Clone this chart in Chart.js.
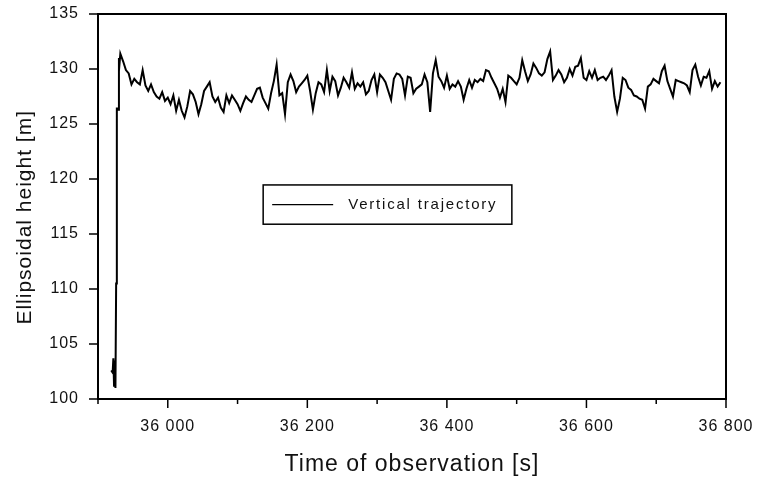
<!DOCTYPE html>
<html><head><meta charset="utf-8">
<script src="https://cdn.jsdelivr.net/npm/chart.js@4.4.0/dist/chart.umd.min.js"></script>
<style>html,body{margin:0;padding:0;background:#fff;}#wrap{width:757px;height:481px;position:relative;}</style>
</head><body><div id="wrap"><canvas id="c" width="757" height="481"></canvas></div>
<script>
const seriesLabel = 'Vertical trajectory';
const xTitle = 'Time of observation [s]';
const yTitle = 'Ellipsoidal height [m]';

// initial jump (1 s samples)
const startTimes   = [35919, 35920, 35921, 35922, 35923, 35924, 35925, 35926, 35927, 35928, 35929, 35930, 35931];
const startHeights = [102.6, 102.6, 102.4, 103.7, 101.2, 103.5, 101.0, 110.5, 126.4, 126.4, 126.3, 131.0, 130.6];

// then one reading every 4 s, starting at 35932 s
const sampledStart = 35932;
const sampledStep = 4;
const sampledHeights = [
  131.4,130.7,129.9,129.6,128.6,129.1,128.8,128.6,129.9,128.5,
  128.0,128.6,127.9,127.5,127.3,127.9,127.1,127.4,126.8,127.6,
  126.2,127.2,126.2,125.6,126.6,128.0,127.7,127.0,125.9,126.8,
  128.0,128.4,128.8,127.5,127.0,127.4,126.5,126.1,127.6,126.9,
  127.6,127.2,
  126.8,126.2,126.9,127.5,127.2,127.0,127.6,128.2,
  128.3,127.4,126.9,126.4,127.8,128.9,130.4,127.6,127.8,125.9,
  128.8,129.5,128.9,127.9,128.4,128.7,129.0,129.4,128.0,126.3,
  127.8,128.8,128.6,127.9,129.9,128.0,129.3,128.9,127.6,128.3,
  129.2,128.8,128.3,129.7,128.2,128.7,
  128.4,128.8,127.7,128.0,
  129.0,129.5,127.9,129.5,129.2,128.8,128.0,127.2,129.1,129.6,
  129.5,129.1,127.6,129.3,129.2,127.8,128.2,128.4,128.6,129.5,
  128.8,126.1,129.6,130.8,129.3,128.9,128.3,129.4,128.2,128.6,
  128.4,128.9,128.4,127.2,128.2,129.0,128.3,129.0,128.8,129.1,128.9,
  129.9,129.8,129.2,128.7,128.2,127.4,128.2,127.0,129.4,
  129.2,128.9,128.6,129.2,130.8,129.8,128.9,129.5,130.5,130.1,
  129.6,129.4,129.7,130.9,131.6,129.0,129.4,129.9,129.5,128.8,
  129.2,130.0,129.4,130.2,130.3,131.0,129.2,129.0,129.8,129.2,
  129.9,129.0,129.2,129.3,129.0,129.4,
  129.9,127.5,126.1,127.3,
  129.2,129.0,128.3,128.1,127.6,127.5,127.3,127.2,126.4,128.4,
  128.6,129.1,128.9,128.7,129.8,130.3,128.9,128.2,127.5,129.0,
  128.9,128.8,128.7,128.5,127.9,129.9,130.4,129.3,128.5,129.3,
  129.2,129.8,128.2,128.9,128.4,128.8
];

const xMin = 35900, xMax = 36800;
const yMin = 100, yMax = 135;
const xMajorTicks = [36000, 36200, 36400, 36600, 36800];
const xMinorTicks = [35900, 36100, 36300, 36500, 36700];
const yTicks = [100, 105, 110, 115, 120, 125, 130, 135];

const points = startTimes.map((t, i) => ({x: t, y: startHeights[i]}));
sampledHeights.forEach((h, i) => points.push({x: sampledStart + i * sampledStep, y: h}));

const fmt = v => String(v).replace(/\B(?=(\d{3})+(?!\d))/g, ' ');
const FONT = '"Liberation Sans", Arial, sans-serif';
const INK = '#111';

const spacingPlugin = {
  id: 'spacing',
  beforeDraw(chart) { chart.ctx.letterSpacing = '1px'; }
};

const framePlugin = {
  id: 'frame',
  afterDatasetsDraw(chart) {
    const {ctx, chartArea: a, scales: {x, y}} = chart;
    ctx.save();
    ctx.strokeStyle = '#000';
    ctx.lineWidth = 2;
    ctx.strokeRect(a.left, a.top, a.right - a.left, a.bottom - a.top);
    ctx.lineWidth = 1.5;
    ctx.beginPath();
    xMajorTicks.forEach(v => { const p = x.getPixelForValue(v); ctx.moveTo(p, a.bottom); ctx.lineTo(p, a.bottom + 9); });
    xMinorTicks.forEach(v => { const p = x.getPixelForValue(v); ctx.moveTo(p, a.bottom); ctx.lineTo(p, a.bottom + 5); });
    yTicks.forEach(v => { const p = y.getPixelForValue(v); ctx.moveTo(a.left, p); ctx.lineTo(a.left - 9, p); });
    ctx.stroke();
    ctx.restore();
  }
};

const yTitlePlugin = {
  id: 'yTitle',
  afterDraw(chart) {
    const {ctx, chartArea: a} = chart;
    ctx.save();
    ctx.letterSpacing = '1px';
    ctx.translate(25, a.top + (a.bottom - a.top) * 0.528);
    ctx.rotate(-Math.PI / 2);
    ctx.fillStyle = INK;
    ctx.font = '21px ' + FONT;
    ctx.textAlign = 'center';
    ctx.textBaseline = 'middle';
    ctx.fillText(yTitle, 0, 0);
    ctx.restore();
  }
};

const legendPlugin = {
  id: 'boxLegend',
  afterDraw(chart) {
    const {ctx, chartArea: a} = chart;
    const w = a.right - a.left, h = a.bottom - a.top;
    const bx = a.left + 0.263 * w, by = a.top + 0.444 * h;
    const bw = 0.396 * w, bh = 0.102 * h;
    const ds = chart.data.datasets[0];
    ctx.save();
    ctx.fillStyle = '#fff';
    ctx.fillRect(bx, by, bw, bh);
    ctx.strokeStyle = '#000';
    ctx.lineWidth = 1.5;
    ctx.strokeRect(bx, by, bw, bh);
    const my = by + bh / 2;
    ctx.lineWidth = 1.3;
    ctx.strokeStyle = ds.borderColor;
    ctx.beginPath(); ctx.moveTo(bx + 9, my); ctx.lineTo(bx + 70, my); ctx.stroke();
    ctx.letterSpacing = '1.8px';
    ctx.fillStyle = INK;
    ctx.font = '15px ' + FONT;
    ctx.textBaseline = 'middle';
    ctx.textAlign = 'left';
    ctx.fillText(ds.label, bx + 85, my + 0.5);
    ctx.restore();
  }
};

new Chart(document.getElementById('c'), {
  type: 'line',
  data: { datasets: [{
    label: seriesLabel,
    data: points,
    borderColor: '#000',
    borderWidth: 2,
    pointRadius: 0,
    tension: 0,
    fill: false
  }]},
  options: {
    responsive: false,
    animation: false,
    devicePixelRatio: 1,
    parsing: false,
    layout: { padding: { top: 14, right: 31, left: 0, bottom: 0 } },
    plugins: { legend: { display: false }, tooltip: { enabled: false } },
    scales: {
      x: {
        type: 'linear', min: xMin, max: xMax,
        afterBuildTicks: s => { s.ticks = xMajorTicks.map(v => ({value: v})); },
        afterFit: s => { s.height = 82; s.paddingLeft = 0; s.paddingRight = 0; },
        grid: { display: false },
        border: { display: false },
        ticks: { autoSkip: false, maxRotation: 0, padding: 10, color: INK,
                 font: { family: FONT, size: 16 }, callback: v => fmt(v) },
        title: { display: true, text: xTitle, color: INK,
                 font: { family: FONT, size: 23 }, padding: { top: 0, bottom: 3 } }
      },
      y: {
        type: 'linear', min: yMin, max: yMax,
        afterBuildTicks: s => { s.ticks = yTicks.map(v => ({value: v})); },
        afterFit: s => { s.width = 98; s.paddingTop = 0; s.paddingBottom = 0; },
        grid: { display: false },
        border: { display: false },
        ticks: { autoSkip: false, padding: 11, color: INK,
                 font: { family: FONT, size: 16 } },
        title: { display: false }
      }
    }
  },
  plugins: [spacingPlugin, framePlugin, yTitlePlugin, legendPlugin]
});
</script>
</body></html>
